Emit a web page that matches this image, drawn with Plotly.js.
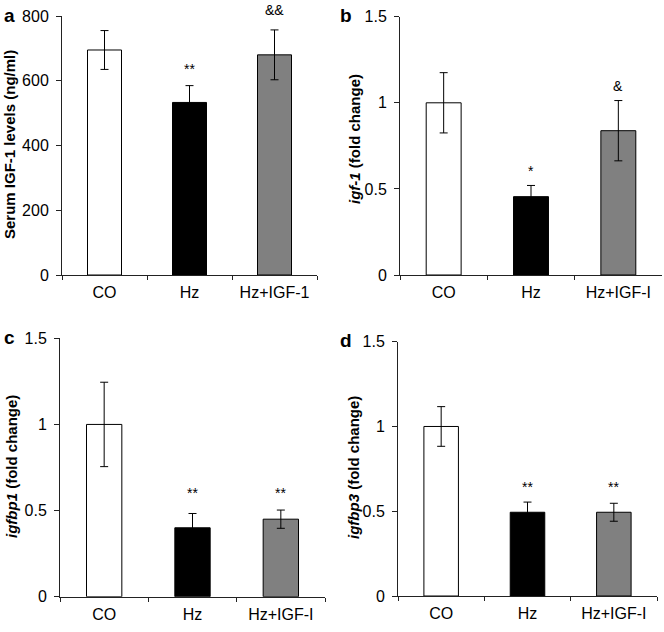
<!DOCTYPE html>
<html>
<head>
<meta charset="utf-8">
<script src="https://cdn.plot.ly/plotly-3.0.1.min.js"></script>
<style>html,body{margin:0;padding:0;background:#fff;}#chart{width:664px;height:632px;}</style>
</head>
<body>
<div id="chart"></div>
<script>
// ---- data ----
const categoriesA = ['CO', 'Hz', 'Hz+IGF-1'];
const categoriesBCD = ['CO', 'Hz', 'Hz+IGF-I'];
const barColors = ['#ffffff', '#000000', '#808080'];

const serumIGF1 = [695, 533, 680];
const serumIGF1Err = [60, 52, 77];
const serumIGF1Sig = ['', '**', '&&'];
const serumIGF1SigY = [null, 647, 818];

const igf1 = [1.0, 0.455, 0.838];
const igf1Err = [0.175, 0.065, 0.175];
const igf1Sig = ['', '*', '&'];
const igf1SigY = [null, 0.621, 1.098];

const igfbp1 = [1.0, 0.40, 0.45];
const igfbp1Err = [0.245, 0.083, 0.053];
const igfbp1Sig = ['', '**', '**'];
const igfbp1SigY = [null, 0.617, 0.617];

const igfbp3 = [1.0, 0.494, 0.494];
const igfbp3Err = [0.117, 0.06, 0.053];
const igfbp3Sig = ['', '**', '**'];
const igfbp3SigY = [null, 0.661, 0.661];

const yTicksA = [0, 200, 400, 600, 800];
const yTicksFold = [0, 0.5, 1, 1.5];
const yTickTextFold = ['0', '0.5', '1', '1.5'];

// ---- build ----
const FONT = 'Liberation Sans, Arial, sans-serif';
const W = 664, H = 632;
const panels = [
  {cats: categoriesA, vals: serumIGF1, err: serumIGF1Err, sig: serumIGF1Sig, sigY: serumIGF1SigY,
   xd: [62, 317], yd: [16, 275], range: [0, 800], tickvals: yTicksA, ticktext: yTicksA.map(String),
   title: '<b>Serum IGF-1 levels (ng/ml)</b>', titleX: 9, titleY: 145, letter: 'a', letterX: 9, letterY: 15},
  {cats: categoriesBCD, vals: igf1, err: igf1Err, sig: igf1Sig, sigY: igf1SigY,
   xd: [400, 662], yd: [16.7, 275], range: [0, 1.5], tickvals: yTicksFold, ticktext: yTickTextFold,
   title: '<b><i>igf-1</i> (fold change)</b>', titleX: 354, titleY: 139, letter: 'b', letterX: 346, letterY: 15},
  {cats: categoriesBCD, vals: igfbp1, err: igfbp1Err, sig: igfbp1Sig, sigY: igfbp1SigY,
   xd: [60, 325], yd: [338.3, 596.7], range: [0, 1.5], tickvals: yTicksFold, ticktext: yTickTextFold,
   title: '<b><i>igfbp1</i> (fold change)</b>', titleX: 11, titleY: 467, letter: 'c', letterX: 9, letterY: 337},
  {cats: categoriesBCD, vals: igfbp3, err: igfbp3Err, sig: igfbp3Sig, sigY: igfbp3SigY,
   xd: [398, 657], yd: [341.7, 596], range: [0, 1.5], tickvals: yTicksFold, ticktext: yTickTextFold,
   title: '<b><i>igfbp3</i> (fold change)</b>', titleX: 354, titleY: 468, letter: 'd', letterX: 346, letterY: 340}
];

const data = [];
const layout = {
  width: W, height: H,
  margin: {l: 0, r: 0, t: 0, b: 0},
  paper_bgcolor: '#ffffff', plot_bgcolor: '#ffffff',
  showlegend: false,
  font: {family: FONT, size: 16, color: '#000'},
  annotations: []
};

panels.forEach((p, i) => {
  const n = i === 0 ? '' : String(i + 1);
  const xa = 'x' + n, ya = 'y' + n;
  data.push({
    type: 'bar', x: p.cats, y: p.vals, xaxis: xa, yaxis: ya, width: 0.4,
    marker: {color: barColors, line: {color: '#000', width: 1}},
    error_y: {type: 'data', array: p.err, visible: true, color: '#000', thickness: 1, width: 4},
    hoverinfo: 'skip'
  });
  layout['xaxis' + n] = {
    domain: [p.xd[0] / W, p.xd[1] / W], anchor: ya, type: 'category',
    range: [-0.5, 2.5], showline: true, linecolor: '#222', linewidth: 1,
    ticks: 'outside', tickson: 'boundaries', ticklen: 4, tickcolor: '#222',
    ticklabelstandoff: 3,
    showgrid: false, zeroline: false, fixedrange: true,
    tickfont: {family: FONT, size: 16, color: '#000'}
  };
  layout['yaxis' + n] = {
    domain: [1 - p.yd[1] / H, 1 - p.yd[0] / H], anchor: xa,
    range: p.range, tickmode: 'array', tickvals: p.tickvals, ticktext: p.ticktext,
    showline: true, linecolor: '#222', linewidth: 1,
    ticks: 'outside', ticklen: 5, tickcolor: '#222',
    ticklabelstandoff: 4,
    showgrid: false, zeroline: false, fixedrange: true,
    tickfont: {family: FONT, size: 16, color: '#000'}
  };
  layout.annotations.push({
    xref: 'paper', yref: 'paper', x: p.titleX / W, y: 1 - p.titleY / H,
    text: p.title, textangle: -90, showarrow: false, xanchor: 'center', yanchor: 'middle',
    font: {family: FONT, size: 15, color: '#000'}
  });
  layout.annotations.push({
    xref: 'paper', yref: 'paper', x: p.letterX / W, y: 1 - p.letterY / H,
    text: '<b>' + p.letter + '</b>', showarrow: false, xanchor: 'center', yanchor: 'middle',
    font: {family: FONT, size: 19, color: '#000'}
  });
  p.sig.forEach((s, j) => {
    if (!s) return;
    layout.annotations.push({
      xref: xa, yref: ya + ' domain', x: p.cats[j], y: p.sigY[j] / p.range[1], text: s, showarrow: false,
      xanchor: 'center', yanchor: 'middle', yshift: s.indexOf('*') >= 0 ? -3 : 0,
      font: {family: FONT, size: 14, color: '#000'}
    });
  });
});

Plotly.newPlot('chart', data, layout, {displayModeBar: false, staticPlot: true});
</script>
</body>
</html>
